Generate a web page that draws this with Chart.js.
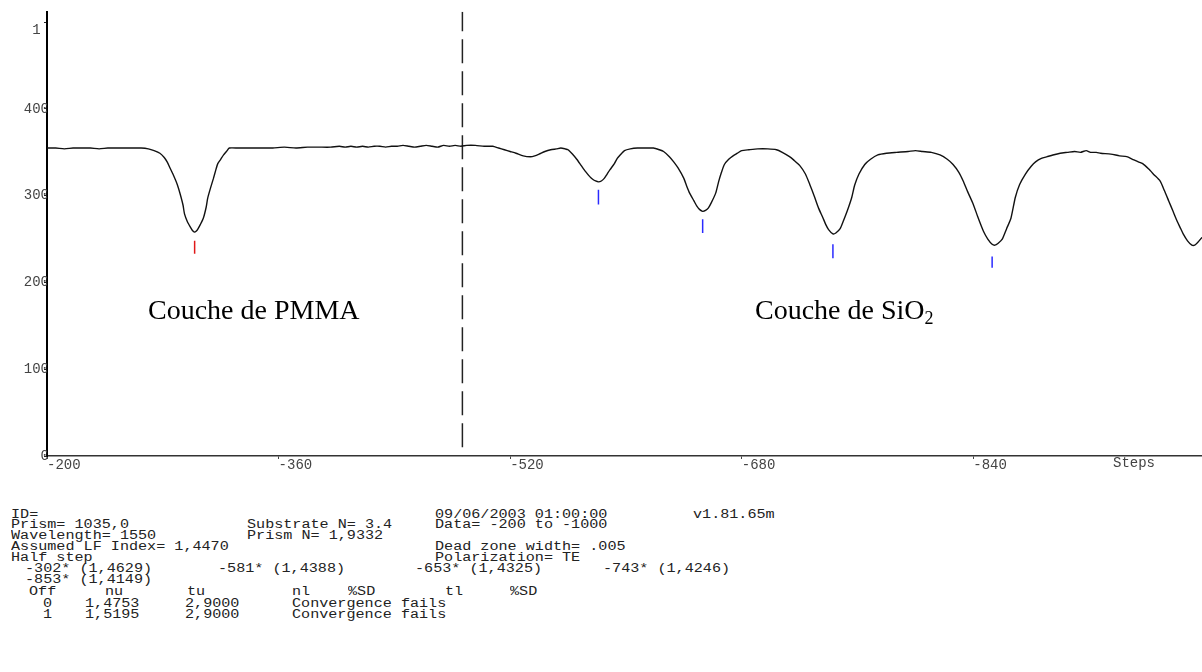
<!DOCTYPE html>
<html>
<head>
<meta charset="utf-8">
<title>Prism coupler scan</title>
<script src="https://cdn.jsdelivr.net/npm/chart.js@4.4.0/dist/chart.umd.min.js"></script>
<style>
  body { margin: 0; background: #fff; }
  #wrap { position: relative; width: 1202px; height: 672px; overflow: hidden; }
  #chartBox { position: absolute; left: 0; top: 0; width: 1202px; height: 480px; }
  .layer { position: absolute; font-family: "Liberation Serif", "Times New Roman", serif; font-size: 28px; line-height: 28px; color: #000; white-space: nowrap; }
  .layer sub { font-size: 18px; vertical-align: -5px; line-height: 0; }
  .report { position: absolute; left: 0; top: 2px; }
  .mono { position: absolute; font-family: "Liberation Mono", "Courier New", monospace; font-size: 12px; line-height: 11px; color: #222; white-space: pre; transform: scaleX(1.26); transform-origin: 0 0; }
  .axisName { position: absolute; font-family: "Liberation Mono", "Courier New", monospace; font-size: 14px; line-height: 14px; color: #444; }
</style>
</head>
<body>
<div id="wrap">
  <div id="chartBox"><canvas id="scanChart" width="1202" height="480"></canvas></div>

  <div class="axisName" style="left:1113px; top:456px;">Steps</div>
  <div class="layer" style="left:148px; top:296px;">Couche de PMMA</div>
  <div class="layer" style="left:755px; top:296px;">Couche de SiO<sub>2</sub></div>

  <!-- measurement report -->
  <div class="report">
    <div class="mono" style="left:11px;  top:508px;">ID=</div>
    <div class="mono" style="left:435px; top:508px;">09/06/2003 01:00:00</div>
    <div class="mono" style="left:693px; top:508px;">v1.81.65m</div>

    <div class="mono" style="left:11px;  top:518px;">Prism= 1035,0</div>
    <div class="mono" style="left:247px; top:518px;">Substrate N= 3.4</div>
    <div class="mono" style="left:435px; top:518px;">Data= -200 to -1000</div>

    <div class="mono" style="left:11px;  top:529px;">Wavelength= 1550</div>
    <div class="mono" style="left:247px; top:529px;">Prism N= 1,9332</div>

    <div class="mono" style="left:11px;  top:540px;">Assumed LF Index= 1,4470</div>
    <div class="mono" style="left:435px; top:540px;">Dead zone width= .005</div>

    <div class="mono" style="left:11px;  top:551px;">Half step</div>
    <div class="mono" style="left:435px; top:551px;">Polarization= TE</div>

    <div class="mono" style="left:25px;  top:562px;">-302* (1,4629)</div>
    <div class="mono" style="left:218px; top:562px;">-581* (1,4388)</div>
    <div class="mono" style="left:415px; top:562px;">-653* (1,4325)</div>
    <div class="mono" style="left:603px; top:562px;">-743* (1,4246)</div>

    <div class="mono" style="left:25px;  top:573px;">-853* (1,4149)</div>

    <div class="mono" style="left:29px;  top:585px;">Off</div>
    <div class="mono" style="left:105px; top:585px;">nu</div>
    <div class="mono" style="left:187px; top:585px;">tu</div>
    <div class="mono" style="left:292px; top:585px;">nl</div>
    <div class="mono" style="left:348px; top:585px;">%SD</div>
    <div class="mono" style="left:445px; top:585px;">tl</div>
    <div class="mono" style="left:510px; top:585px;">%SD</div>

    <div class="mono" style="left:43px;  top:597px;">0</div>
    <div class="mono" style="left:85px;  top:597px;">1,4753</div>
    <div class="mono" style="left:185px; top:597px;">2,9000</div>
    <div class="mono" style="left:292px; top:597px;">Convergence fails</div>

    <div class="mono" style="left:43px;  top:608px;">1</div>
    <div class="mono" style="left:85px;  top:608px;">1,5195</div>
    <div class="mono" style="left:185px; top:608px;">2,9000</div>
    <div class="mono" style="left:292px; top:608px;">Convergence fails</div>
  </div>
</div>

<script>
// ---- scan data (steps vs detector intensity) ----
const steps = [
  -200, -206, -212, -218, -224, -230, -236, -242, -248, -254, -260, -265, -270,
  -274, -278, -281, -283, -285, -287, -290, -292, -294, -295, -297, -299, -300.5, -302,
  -303, -304, -306, -308, -310, -311, -313, -315, -316.5, -318, -320, -322, -324, -326,
  -332, -340, -348, -356, -364, -372, -380, -388, -396, -402, -406, -410, -414, -418,
  -422, -426, -430, -434, -438, -442, -446, -450, -454, -458, -462, -466, -470, -474,
  -478, -482, -486, -490, -496, -502, -508,
  -512, -516, -520, -524, -529, -534, -537, -540, -544, -548, -552, -555, -558, -560,
  -563, -566, -569, -572, -575, -577, -579, -581, -583, -585, -587, -589, -592, -594,
  -596, -599, -603, -608, -614, -619, -623, -626, -630, -633, -636, -640, -642, -644,
  -647, -649, -651, -653, -655, -657, -659, -662, -664, -666, -668, -671, -674, -677,
  -680, -685, -691, -698, -704, -708, -713, -716, -720, -724, -727, -730, -733, -736,
  -738, -740, -743, -745, -748, -750, -753, -756, -758, -761, -765, -769, -774, -780,
  -787, -795, -800, -805, -811, -817, -822, -826, -830, -833, -836, -840, -843, -847,
  -850, -853, -855, -857, -860, -863, -866, -869, -872, -876, -880, -883, -887, -891,
  -895, -900, -905, -910, -914, -918, -921, -925, -928, -935, -941, -946, -950, -954,
  -957, -961, -965, -969, -972, -975, -978, -981, -983, -985, -988, -991, -993, -995, -998
];
const intensity = [
  355, 355, 354, 355, 355, 355, 354, 355, 355, 355, 355, 355, 354,
  352, 349, 344, 339, 332, 325, 313, 302, 289, 279, 270, 264, 260, 258,
  259, 261, 267, 274, 287, 297, 309, 320, 329, 337, 342, 347, 351, 355,
  355, 355, 355, 355, 356, 355, 356, 356, 356, 357, 356, 357, 356, 357,
  356, 357, 357, 356, 357, 357, 358, 357, 356, 357, 358, 357, 356, 358,
  357, 358, 357, 358, 358, 357, 357,
  355, 353, 351, 349, 346, 345, 346, 348, 351, 353, 354, 355, 354, 353,
  348, 342, 335, 328, 322, 319, 317, 316, 317, 320, 325, 330, 337, 343,
  347, 352, 354, 355, 355, 355, 353, 351, 345, 339, 332, 320, 311, 303,
  294, 288, 284, 282, 283, 286, 292, 303, 316, 327, 336, 342, 346, 349,
  352, 353, 354, 354, 353, 350, 345, 341, 335, 325, 313, 300, 286, 275,
  267, 261, 256, 257, 262, 270, 283, 298, 312, 325, 336, 342, 347, 349,
  350, 351, 352, 351, 350, 347, 342, 336, 327, 317, 305, 290, 276, 259,
  250, 244, 243, 245, 250, 262, 274, 298, 313, 325, 334, 339, 343, 345,
  347, 349, 350, 351, 350, 352, 350, 350, 349, 348, 346, 345, 342, 339,
  337, 331, 324, 317, 306, 294, 282, 270, 263, 256, 248, 243, 243, 246, 252
];

// fitted mode positions (red = PMMA, blue = SiO2) and marker extent
const pmmaMode = [-302];
const pmmaTop = [248];
const pmmaBottom = [233];
const sio2Modes = [-581, -653, -743, -853];
const sio2Top = [307, 273, 244, 230];
const sio2Bottom = [290, 257, 228, 217];

// boundary between the two layers
const boundaryStep = -487;
const boundaryRange = [10, 512];

// axis ticks
const xTicks = [-200, -360, -520, -680, -840];
const yTicks = [0, 100, 200, 300, 400, 500];

// ---- build datasets ----
const curve = steps.map((s, i) => ({ x: s, y: intensity[i] }));

function markerPoints(xs, tops, bottoms) {
  const pts = [];
  xs.forEach((x, i) => {
    pts.push({ x: x, y: tops[i] });
    pts.push({ x: x, y: bottoms[i] });
    pts.push({ x: x, y: null });
  });
  return pts;
}

const ctx = document.getElementById('scanChart').getContext('2d');

new Chart(ctx, {
  type: 'line',
  data: {
    datasets: [
      {
        data: curve,
        borderColor: '#111',
        borderWidth: 1.4,
        pointRadius: 0,
        tension: 0.2
      },
      {
        data: boundaryRange.map(v => ({ x: boundaryStep, y: v })),
        borderColor: '#222',
        borderWidth: 1.5,
        borderDash: [24, 8],
        pointRadius: 0
      },
      {
        data: markerPoints(pmmaMode, pmmaTop, pmmaBottom),
        borderColor: '#e01818',
        borderWidth: 1.5,
        pointRadius: 0,
        spanGaps: false
      },
      {
        data: markerPoints(sio2Modes, sio2Top, sio2Bottom),
        borderColor: '#2a2aff',
        borderWidth: 1.5,
        pointRadius: 0,
        spanGaps: false
      }
    ]
  },
  options: {
    responsive: false,
    animation: false,
    devicePixelRatio: 1,
    layout: { padding: { top: 10, left: 0, right: 0, bottom: 0 } },
    plugins: {
      legend: { display: false },
      tooltip: { enabled: false }
    },
    scales: {
      x: {
        type: 'linear',
        min: -998,
        max: -200,
        reverse: true,
        afterBuildTicks: scale => { scale.ticks = xTicks.map(v => ({ value: v })); },
        afterFit: scale => { scale.height = 24; },
        ticks: {
          align: 'start',
          padding: -2,
          autoSkip: false,
          maxRotation: 0,
          color: '#444',
          font: { family: 'Liberation Mono', size: 14 },
          callback: v => String(v)
        },
        grid: { drawOnChartArea: false, drawTicks: true, tickLength: 3, color: '#444' },
        border: { color: '#333', width: 1.5 }
      },
      y: {
        type: 'linear',
        min: 0,
        max: 512,
        afterBuildTicks: scale => { scale.ticks = yTicks.map(v => ({ value: v })); },
        afterFit: scale => { scale.width = 47; },
        ticks: {
          padding: -5,
          color: '#444',
          font: { family: 'Liberation Mono', size: 14 },
          callback: v => (v === 500 ? ['', '1 '] : String(v))
        },
        grid: { drawOnChartArea: false, drawTicks: true, tickLength: 3, color: '#222' },
        border: { color: '#000', width: 2 }
      }
    }
  }
});
</script>
</body>
</html>
